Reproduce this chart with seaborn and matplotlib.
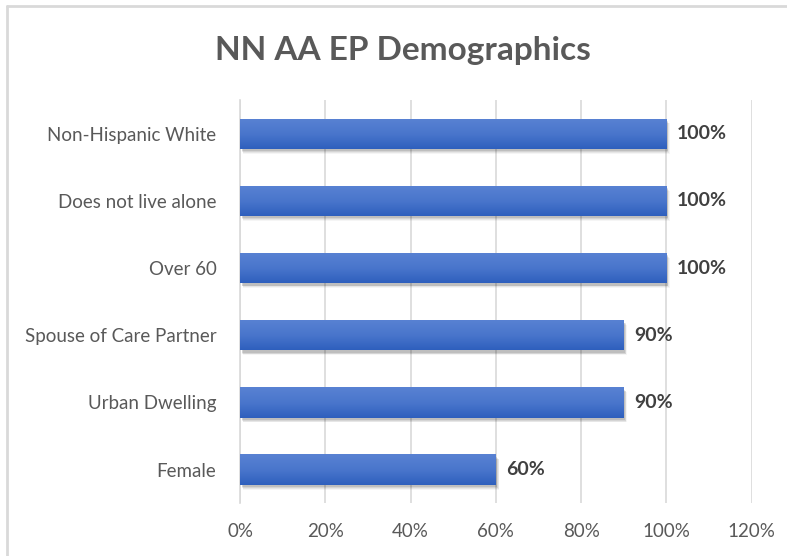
import matplotlib
matplotlib.use("Agg")
import matplotlib.pyplot as plt
import matplotlib.patches as mpatches
import matplotlib.transforms as mtransforms
import numpy as np
import pandas as pd
import seaborn as sns

categories = ["Non-Hispanic White", "Does not live alone", "Over 60",
              "Spouse of Care Partner", "Urban Dwelling", "Female"]
values = [1.00, 1.00, 1.00, 0.90, 0.90, 0.60]
tick_values = [0, 0.2, 0.4, 0.6, 0.8, 1.0, 1.2]
tick_labels = ["0%", "20%", "40%", "60%", "80%", "100%", "120%"]
title = "NN AA EP Demographics"

df = pd.DataFrame({"category": categories, "value": values})

sns.set_theme(style="white")
plt.rcParams["font.family"] = ["Lato", "DejaVu Sans"]

fig = plt.figure(figsize=(7.87, 5.56), dpi=100)
ax = fig.add_axes([0.305, 0.095, 0.65, 0.725])

sns.barplot(data=df, x="value", y="category", orient="h", color="#4472c4",
            width=0.45, ax=ax, zorder=3)

ax.set_xlim(0, 1.2)
ax.set_xticks(tick_values)
ax.set_xticklabels(tick_labels)
ax.set_xlabel("")
ax.set_ylabel("")
ax.grid(axis="x", color="#d9d9d9", linewidth=1.2, zorder=0)
ax.grid(axis="y", visible=False)
for side in ["top", "right", "bottom"]:
    ax.spines[side].set_visible(False)
ax.spines["left"].set_color("#d9d9d9")
ax.spines["left"].set_linewidth(1.2)
ax.tick_params(axis="both", length=0, labelsize=13.5, labelcolor="#595959")
ax.tick_params(axis="x", pad=14)
ax.tick_params(axis="y", pad=17)

# vertical gradient fill (light on top, darker below) and soft drop shadow
grad = np.linspace(0, 1, 256).reshape(-1, 1)
cmap = matplotlib.colors.LinearSegmentedColormap.from_list(
    "bar", ["#5982d3", "#4a76cc", "#2e5fbd"])
for patch in list(ax.patches):
    x0, y0 = patch.get_x(), patch.get_y()
    w, h = patch.get_width(), patch.get_height()
    for k, a in enumerate([0.10, 0.08, 0.06, 0.04]):
        off = mtransforms.offset_copy(ax.transData, fig=fig,
                                      x=1.5 + k * 0.6, y=-(2.5 + k * 0.8), units="dots")
        sh = mpatches.Rectangle((x0, y0), w, h, transform=off,
                                facecolor="black", alpha=a, edgecolor="none", zorder=2)
        ax.add_patch(sh)
    img = ax.imshow(grad, extent=[x0, x0 + w, y0 + h, y0], aspect="auto",
                    cmap=cmap, origin="upper", zorder=3.5)
    img.set_clip_path(patch)
    patch.set_edgecolor("none")
    ax.text(x0 + w + 0.025, y0 + h / 2, f"{int(round(w * 100))}%",
            va="center", ha="left", fontsize=14, fontweight="bold",
            color="#404040", zorder=5)

ax.set_ylim(5.5, -0.5)
ax.set_xlim(0, 1.2)

fig.text(0.512, 0.91, title, ha="center", va="center", fontsize=24,
         fontweight="bold", color="#595959")

# chart area border (top and left edges)
fig.add_artist(plt.Line2D([0.009, 1.0], [0.989, 0.989], color="#d9d9d9",
                          linewidth=2, transform=fig.transFigure))
fig.add_artist(plt.Line2D([0.009, 0.009], [0.0, 0.989], color="#d9d9d9",
                          linewidth=2, transform=fig.transFigure))

fig.savefig("out.png", dpi=100, facecolor="white")
